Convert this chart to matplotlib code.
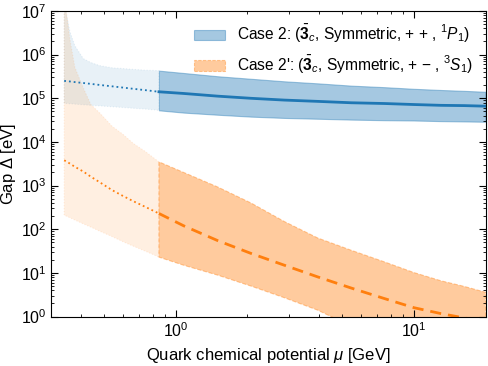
import matplotlib
matplotlib.use('Agg')
import matplotlib.pyplot as plt
import numpy as np

plt.rcParams['font.family'] = ['Liberation Sans', 'DejaVu Sans']
plt.rcParams['mathtext.fontset'] = 'custom'
plt.rcParams['mathtext.rm'] = 'Liberation Sans'
plt.rcParams['mathtext.it'] = 'Liberation Sans:italic'
plt.rcParams['mathtext.bf'] = 'Liberation Sans:bold'

# quark chemical potential mu [GeV], extrapolated (light) part
mu_light = [0.34, 0.347, 0.359, 0.377, 0.409, 0.44, 0.48, 0.54, 0.6, 0.663, 0.75, 0.85]
# case 2 (blue)
blue_up_light = [3e7, 9e6, 3.4e6, 1.6e6, 8.1e5, 6.6e5, 5.6e5, 5.0e5, 4.8e5, 4.6e5, 4.4e5, 4.3e5]
blue_mid_light = [2.5e5, 2.48e5, 2.43e5, 2.35e5, 2.24e5, 2.14e5, 2.02e5, 1.88e5, 1.76e5, 1.65e5, 1.53e5, 1.41e5]
blue_lo_light = [7.7e4, 7.65e4, 7.5e4, 7.35e4, 7.1e4, 6.9e4, 6.7e4, 6.4e4, 6.15e4, 5.9e4, 5.65e4, 5.3e4]
# case 2' (orange)
orng_up_light = [3e7, 1e7, 2.3e6, 5.1e5, 1.74e5, 7.2e4, 4.6e4, 2.3e4, 1.5e4, 9.3e3, 5.9e3, 3.5e3]
orng_mid_light = [3.8e3, 3.6e3, 3.2e3, 2.7e3, 2.1e3, 1.6e3, 1.19e3, 7.9e2, 5.8e2, 4.4e2, 3.2e2, 2.3e2]
orng_lo_light = [210, 200, 184, 163, 133, 112, 90, 68, 52, 41, 31, 23]

# trusted (dark) part
mu_dark = [0.85, 1.08, 1.5, 2.07, 2.86, 3.95, 5.46, 7.5, 10, 13, 16.3, 20]
blue_up = [4.3e5, 3.8e5, 3.2e5, 2.8e5, 2.45e5, 2.2e5, 1.95e5, 1.8e5, 1.65e5, 1.55e5, 1.48e5, 1.41e5]
blue_mid = [1.41e5, 1.29e5, 1.12e5, 1.0e5, 9.1e4, 8.5e4, 7.9e4, 7.6e4, 7.2e4, 6.9e4, 6.8e4, 6.6e4]
blue_lo = [5.3e4, 4.7e4, 4.2e4, 3.8e4, 3.55e4, 3.4e4, 3.25e4, 3.15e4, 3.1e4, 3.0e4, 2.95e4, 2.9e4]
orng_up = [3.5e3, 2.0e3, 9.3e2, 4.0e2, 1.5e2, 63, 33, 18, 10.2, 6.6, 4.9, 3.6]
orng_mid = [230, 120, 55, 28, 15, 8.1, 4.5, 2.6, 1.6, 1.17, 0.93, 0.75]
orng_lo = [23, 15, 8.9, 5.0, 2.7, 1.4, 0.6, 0.3, 0.15, 0.08, 0.05, 0.03]

label_blue = r'Case 2: ($\bar{\mathbf{3}}_c$, Symmetric, + + , $^1P_1$)'
label_orng = "Case 2': ($\\bar{\\mathbf{3}}_c$, Symmetric, + \u2212 , $^3S_1$)"

blue = '#1f77b4'
orng = '#ff7f0e'

fig = plt.figure(figsize=(4.88, 3.66), dpi=100)
ax = fig.add_axes([0.105, 0.135, 0.89, 0.835])

# light extrapolated bands
ax.fill_between(mu_light, blue_lo_light, blue_up_light, facecolor=blue, alpha=0.1,
                edgecolor=blue, linestyle=':', linewidth=0.8)
ax.fill_between(mu_light, orng_lo_light, orng_up_light, facecolor=orng, alpha=0.12,
                edgecolor=orng, linestyle=':', linewidth=0.8)
ax.plot(mu_light, blue_mid_light, color=blue, linestyle=':', linewidth=1.3)
ax.plot(mu_light, orng_mid_light, color=orng, linestyle=':', linewidth=1.3)

# dark bands
ax.fill_between(mu_dark, blue_lo, blue_up, facecolor=blue, alpha=0.4,
                edgecolor=blue, linestyle='-', linewidth=0.8, label=label_blue)
ax.fill_between(mu_dark, orng_lo, orng_up, facecolor=orng, alpha=0.4,
                edgecolor=orng, linestyle='--', linewidth=0.8, label=label_orng)
ax.plot(mu_dark, blue_mid, color=blue, linestyle='-', linewidth=2)
ax.plot(mu_dark, orng_mid, color=orng, linestyle=(0, (4, 2.5)), linewidth=2)

ax.set_xscale('log')
ax.set_yscale('log')
ax.set_xlim(0.3, 20)
ax.set_ylim(1, 1e7)
ax.set_yticks([10.0**k for k in range(8)])
ax.tick_params(which='both', direction='in', top=True, right=True, labelsize=11.5)
ax.tick_params(which='major', length=5)
ax.tick_params(which='minor', length=2.5)
ax.set_xlabel(r'Quark chemical potential $\mu$ [GeV]', fontsize=12)
ax.set_ylabel(r'Gap $\Delta$ [eV]', fontsize=12, labelpad=2)

ax.legend(loc='upper right', frameon=False, fontsize=11.2, handlelength=2.0,
          handletextpad=0.8, borderaxespad=0.4, labelspacing=0.55)

fig.savefig('out.png', dpi=100)
